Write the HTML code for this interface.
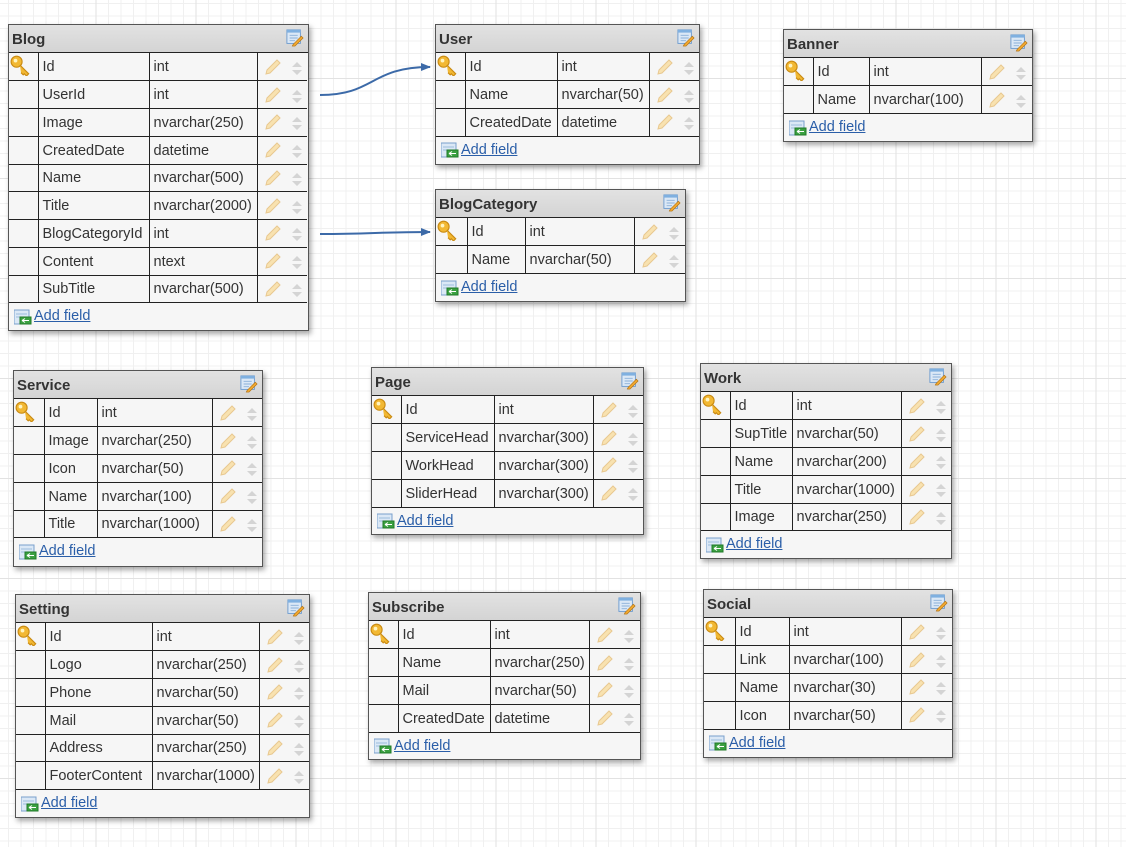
<!DOCTYPE html>
<html><head><meta charset="utf-8"><style>
body{margin:0;width:1126px;height:847px;overflow:hidden;font-family:"Liberation Sans",sans-serif;
background-color:#fff;
background-image:linear-gradient(to right,#e2e2e2 1px,transparent 1px),linear-gradient(to bottom,#e2e2e2 1px,transparent 1px),linear-gradient(to right,#f0f0f0 1px,transparent 1px),linear-gradient(to bottom,#f0f0f0 1px,transparent 1px);
background-size:100px 100px,100px 100px,12.5px 12.5px,12.5px 12.5px;
background-position:95.5px 0,0 78px,8px 0,0 3px;position:relative}
.t{position:absolute;background:#f6f6f6;border:1px solid #555;box-shadow:2px 3px 5px rgba(0,0,0,.35);box-sizing:border-box}
.h{height:28px;background:linear-gradient(#e2e2e2,#d4d4d4);font-weight:bold;font-size:15px;color:#333;line-height:29px;padding-left:3px;position:relative;border-bottom:1px solid #222;box-sizing:border-box}
.ed{position:absolute;right:4px;top:4px;width:18px;height:18px}
table{border-collapse:collapse;table-layout:fixed;font-size:14.5px;color:#333}
td{height:27.75px;border-top:1px solid #222;padding:1px 0 0 4px;white-space:nowrap;overflow:hidden;box-sizing:border-box}
tr:first-child td{border-top:none}
td+td{border-left:1px solid #222}
td.k{padding:0}
td.i{padding:0 0 0 6px}
table{border-bottom:1px solid #222}
.add{height:27px;line-height:27px;font-size:14.5px;padding-left:5px;display:flex;align-items:center}
.add a{color:#2a5ea8;text-decoration:underline;margin-left:2px}
</style></head><body>
<svg width="0" height="0" style="position:absolute"><defs>
<g id="key"><circle cx="6" cy="7" r="5" fill="#f2b833" stroke="#c98a12"/><circle cx="5" cy="6" r="1.7" fill="#fff4c0"/><path d="M9 10 L17 18 L15 20 L13 18 L12 19 L10 17" fill="#f2b833" stroke="#c98a12"/></g>
<g id="pen"><path d="M3 15 L13 5 L16 8 L6 18 L2 19 Z" fill="#f8e2b0" stroke="#e8c890" stroke-width="1"/></g>
<g id="ud"><path d="M5 0 L10 5 L0 5Z M0 8 L10 8 L5 13Z" fill="#d4d4d4"/></g>
<g id="edi"><rect x="1" y="1" width="15" height="15" fill="#dbe8f6" stroke="#6a9ad0"/><rect x="1" y="1" width="15" height="3" fill="#7fb0e0"/><path d="M4 7h9M4 10h9M4 13h6" stroke="#8bb0d8"/><path d="M8 17 L17 8 L19 10 L10 19 L7 19Z" fill="#f0a830" stroke="#b07010" stroke-width=".7"/></g>
<g id="addi"><rect x="0" y="1" width="15" height="14" fill="#dbe8f6" stroke="#7aa0cc"/><path d="M2 5h11M2 8h11" stroke="#9bbbdc"/><rect x="6" y="8" width="11" height="7" fill="#3aa040" stroke="#207a28"/><path d="M8 11.5h7M8 11.5l3-2M8 11.5l3 2" stroke="#fff" stroke-width="1"/></g>
</defs></svg>

<svg style="position:absolute;left:0;top:0" width="1126" height="847">
<defs><marker id="ar" markerWidth="10" markerHeight="8" refX="9" refY="4" orient="auto" markerUnits="userSpaceOnUse"><path d="M0 0 L10 4 L0 8Z" fill="#3c6aa8"/></marker></defs>
<path d="M320 95 C 375 95, 370 67, 430 67" stroke="#3c6aa8" stroke-width="2" fill="none" marker-end="url(#ar)"/>
<path d="M320 234 C 370 234, 380 232, 430 232" stroke="#3c6aa8" stroke-width="2" fill="none" marker-end="url(#ar)"/>
</svg>

<!-- Blog -->
<div class="t" style="left:8px;top:24px;width:301px;height:307px">
<div class="h">Blog<svg class="ed" viewBox="0 0 20 20"><use href="#edi"/></svg></div>
<table style="width:298px"><colgroup><col style="width:29px"><col style="width:111px"><col style="width:108px"><col style="width:50px"></colgroup>
<tr><td class="k"><svg width="24" height="22" viewBox="0 0 20 20"><use href="#key"/></svg></td><td>Id</td><td>int</td><td class="i"><svg width="20" height="20"><use href="#pen"/></svg><svg width="10" height="13" style="margin-left:8px"><use href="#ud"/></svg></td></tr>
<tr><td></td><td>UserId</td><td>int</td><td class="i"><svg width="20" height="20"><use href="#pen"/></svg><svg width="10" height="13" style="margin-left:8px"><use href="#ud"/></svg></td></tr>
<tr><td></td><td>Image</td><td>nvarchar(250)</td><td class="i"><svg width="20" height="20"><use href="#pen"/></svg><svg width="10" height="13" style="margin-left:8px"><use href="#ud"/></svg></td></tr>
<tr><td></td><td>CreatedDate</td><td>datetime</td><td class="i"><svg width="20" height="20"><use href="#pen"/></svg><svg width="10" height="13" style="margin-left:8px"><use href="#ud"/></svg></td></tr>
<tr><td></td><td>Name</td><td>nvarchar(500)</td><td class="i"><svg width="20" height="20"><use href="#pen"/></svg><svg width="10" height="13" style="margin-left:8px"><use href="#ud"/></svg></td></tr>
<tr><td></td><td>Title</td><td>nvarchar(2000)</td><td class="i"><svg width="20" height="20"><use href="#pen"/></svg><svg width="10" height="13" style="margin-left:8px"><use href="#ud"/></svg></td></tr>
<tr><td></td><td>BlogCategoryId</td><td>int</td><td class="i"><svg width="20" height="20"><use href="#pen"/></svg><svg width="10" height="13" style="margin-left:8px"><use href="#ud"/></svg></td></tr>
<tr><td></td><td>Content</td><td>ntext</td><td class="i"><svg width="20" height="20"><use href="#pen"/></svg><svg width="10" height="13" style="margin-left:8px"><use href="#ud"/></svg></td></tr>
<tr><td></td><td>SubTitle</td><td>nvarchar(500)</td><td class="i"><svg width="20" height="20"><use href="#pen"/></svg><svg width="10" height="13" style="margin-left:8px"><use href="#ud"/></svg></td></tr>
</table>
<div class="add"><svg width="18" height="16"><use href="#addi"/></svg><a>Add field</a></div>
</div>

<!-- User -->
<div class="t" style="left:435px;top:24px;width:265px;height:141px">
<div class="h">User<svg class="ed" viewBox="0 0 20 20"><use href="#edi"/></svg></div>
<table style="width:263px"><colgroup><col style="width:29px"><col style="width:92px"><col style="width:92px"><col style="width:50px"></colgroup>
<tr><td class="k"><svg width="24" height="22" viewBox="0 0 20 20"><use href="#key"/></svg></td><td>Id</td><td>int</td><td class="i"><svg width="20" height="20"><use href="#pen"/></svg><svg width="10" height="13" style="margin-left:8px"><use href="#ud"/></svg></td></tr>
<tr><td></td><td>Name</td><td>nvarchar(50)</td><td class="i"><svg width="20" height="20"><use href="#pen"/></svg><svg width="10" height="13" style="margin-left:8px"><use href="#ud"/></svg></td></tr>
<tr><td></td><td>CreatedDate</td><td>datetime</td><td class="i"><svg width="20" height="20"><use href="#pen"/></svg><svg width="10" height="13" style="margin-left:8px"><use href="#ud"/></svg></td></tr>
</table>
<div class="add"><svg width="18" height="16"><use href="#addi"/></svg><a>Add field</a></div>
</div>

<!-- Banner -->
<div class="t" style="left:783px;top:29px;width:250px;height:113px">
<div class="h">Banner<svg class="ed" viewBox="0 0 20 20"><use href="#edi"/></svg></div>
<table style="width:248px"><colgroup><col style="width:29px"><col style="width:56px"><col style="width:112px"><col style="width:51px"></colgroup>
<tr><td class="k"><svg width="24" height="22" viewBox="0 0 20 20"><use href="#key"/></svg></td><td>Id</td><td>int</td><td class="i"><svg width="20" height="20"><use href="#pen"/></svg><svg width="10" height="13" style="margin-left:8px"><use href="#ud"/></svg></td></tr>
<tr><td></td><td>Name</td><td>nvarchar(100)</td><td class="i"><svg width="20" height="20"><use href="#pen"/></svg><svg width="10" height="13" style="margin-left:8px"><use href="#ud"/></svg></td></tr>
</table>
<div class="add"><svg width="18" height="16"><use href="#addi"/></svg><a>Add field</a></div>
</div>

<!-- BlogCategory -->
<div class="t" style="left:435px;top:189px;width:251px;height:113px">
<div class="h">BlogCategory<svg class="ed" viewBox="0 0 20 20"><use href="#edi"/></svg></div>
<table style="width:249px"><colgroup><col style="width:31px"><col style="width:58px"><col style="width:109px"><col style="width:51px"></colgroup>
<tr><td class="k"><svg width="24" height="22" viewBox="0 0 20 20"><use href="#key"/></svg></td><td>Id</td><td>int</td><td class="i"><svg width="20" height="20"><use href="#pen"/></svg><svg width="10" height="13" style="margin-left:8px"><use href="#ud"/></svg></td></tr>
<tr><td></td><td>Name</td><td>nvarchar(50)</td><td class="i"><svg width="20" height="20"><use href="#pen"/></svg><svg width="10" height="13" style="margin-left:8px"><use href="#ud"/></svg></td></tr>
</table>
<div class="add"><svg width="18" height="16"><use href="#addi"/></svg><a>Add field</a></div>
</div>

<!-- Service -->
<div class="t" style="left:13px;top:370px;width:250px;height:197px">
<div class="h">Service<svg class="ed" viewBox="0 0 20 20"><use href="#edi"/></svg></div>
<table style="width:248px"><colgroup><col style="width:30px"><col style="width:53px"><col style="width:115px"><col style="width:50px"></colgroup>
<tr><td class="k"><svg width="24" height="22" viewBox="0 0 20 20"><use href="#key"/></svg></td><td>Id</td><td>int</td><td class="i"><svg width="20" height="20"><use href="#pen"/></svg><svg width="10" height="13" style="margin-left:8px"><use href="#ud"/></svg></td></tr>
<tr><td></td><td>Image</td><td>nvarchar(250)</td><td class="i"><svg width="20" height="20"><use href="#pen"/></svg><svg width="10" height="13" style="margin-left:8px"><use href="#ud"/></svg></td></tr>
<tr><td></td><td>Icon</td><td>nvarchar(50)</td><td class="i"><svg width="20" height="20"><use href="#pen"/></svg><svg width="10" height="13" style="margin-left:8px"><use href="#ud"/></svg></td></tr>
<tr><td></td><td>Name</td><td>nvarchar(100)</td><td class="i"><svg width="20" height="20"><use href="#pen"/></svg><svg width="10" height="13" style="margin-left:8px"><use href="#ud"/></svg></td></tr>
<tr><td></td><td>Title</td><td>nvarchar(1000)</td><td class="i"><svg width="20" height="20"><use href="#pen"/></svg><svg width="10" height="13" style="margin-left:8px"><use href="#ud"/></svg></td></tr>
</table>
<div class="add"><svg width="18" height="16"><use href="#addi"/></svg><a>Add field</a></div>
</div>

<!-- Page -->
<div class="t" style="left:371px;top:367px;width:273px;height:168px">
<div class="h">Page<svg class="ed" viewBox="0 0 20 20"><use href="#edi"/></svg></div>
<table style="width:271px"><colgroup><col style="width:29px"><col style="width:93px"><col style="width:99px"><col style="width:50px"></colgroup>
<tr><td class="k"><svg width="24" height="22" viewBox="0 0 20 20"><use href="#key"/></svg></td><td>Id</td><td>int</td><td class="i"><svg width="20" height="20"><use href="#pen"/></svg><svg width="10" height="13" style="margin-left:8px"><use href="#ud"/></svg></td></tr>
<tr><td></td><td>ServiceHead</td><td>nvarchar(300)</td><td class="i"><svg width="20" height="20"><use href="#pen"/></svg><svg width="10" height="13" style="margin-left:8px"><use href="#ud"/></svg></td></tr>
<tr><td></td><td>WorkHead</td><td>nvarchar(300)</td><td class="i"><svg width="20" height="20"><use href="#pen"/></svg><svg width="10" height="13" style="margin-left:8px"><use href="#ud"/></svg></td></tr>
<tr><td></td><td>SliderHead</td><td>nvarchar(300)</td><td class="i"><svg width="20" height="20"><use href="#pen"/></svg><svg width="10" height="13" style="margin-left:8px"><use href="#ud"/></svg></td></tr>
</table>
<div class="add"><svg width="18" height="16"><use href="#addi"/></svg><a>Add field</a></div>
</div>

<!-- Work -->
<div class="t" style="left:700px;top:363px;width:252px;height:196px">
<div class="h">Work<svg class="ed" viewBox="0 0 20 20"><use href="#edi"/></svg></div>
<table style="width:250px"><colgroup><col style="width:29px"><col style="width:62px"><col style="width:109px"><col style="width:50px"></colgroup>
<tr><td class="k"><svg width="24" height="22" viewBox="0 0 20 20"><use href="#key"/></svg></td><td>Id</td><td>int</td><td class="i"><svg width="20" height="20"><use href="#pen"/></svg><svg width="10" height="13" style="margin-left:8px"><use href="#ud"/></svg></td></tr>
<tr><td></td><td>SupTitle</td><td>nvarchar(50)</td><td class="i"><svg width="20" height="20"><use href="#pen"/></svg><svg width="10" height="13" style="margin-left:8px"><use href="#ud"/></svg></td></tr>
<tr><td></td><td>Name</td><td>nvarchar(200)</td><td class="i"><svg width="20" height="20"><use href="#pen"/></svg><svg width="10" height="13" style="margin-left:8px"><use href="#ud"/></svg></td></tr>
<tr><td></td><td>Title</td><td>nvarchar(1000)</td><td class="i"><svg width="20" height="20"><use href="#pen"/></svg><svg width="10" height="13" style="margin-left:8px"><use href="#ud"/></svg></td></tr>
<tr><td></td><td>Image</td><td>nvarchar(250)</td><td class="i"><svg width="20" height="20"><use href="#pen"/></svg><svg width="10" height="13" style="margin-left:8px"><use href="#ud"/></svg></td></tr>
</table>
<div class="add"><svg width="18" height="16"><use href="#addi"/></svg><a>Add field</a></div>
</div>

<!-- Setting -->
<div class="t" style="left:15px;top:594px;width:295px;height:224px">
<div class="h">Setting<svg class="ed" viewBox="0 0 20 20"><use href="#edi"/></svg></div>
<table style="width:293px"><colgroup><col style="width:29px"><col style="width:107px"><col style="width:107px"><col style="width:50px"></colgroup>
<tr><td class="k"><svg width="24" height="22" viewBox="0 0 20 20"><use href="#key"/></svg></td><td>Id</td><td>int</td><td class="i"><svg width="20" height="20"><use href="#pen"/></svg><svg width="10" height="13" style="margin-left:8px"><use href="#ud"/></svg></td></tr>
<tr><td></td><td>Logo</td><td>nvarchar(250)</td><td class="i"><svg width="20" height="20"><use href="#pen"/></svg><svg width="10" height="13" style="margin-left:8px"><use href="#ud"/></svg></td></tr>
<tr><td></td><td>Phone</td><td>nvarchar(50)</td><td class="i"><svg width="20" height="20"><use href="#pen"/></svg><svg width="10" height="13" style="margin-left:8px"><use href="#ud"/></svg></td></tr>
<tr><td></td><td>Mail</td><td>nvarchar(50)</td><td class="i"><svg width="20" height="20"><use href="#pen"/></svg><svg width="10" height="13" style="margin-left:8px"><use href="#ud"/></svg></td></tr>
<tr><td></td><td>Address</td><td>nvarchar(250)</td><td class="i"><svg width="20" height="20"><use href="#pen"/></svg><svg width="10" height="13" style="margin-left:8px"><use href="#ud"/></svg></td></tr>
<tr><td></td><td>FooterContent</td><td>nvarchar(1000)</td><td class="i"><svg width="20" height="20"><use href="#pen"/></svg><svg width="10" height="13" style="margin-left:8px"><use href="#ud"/></svg></td></tr>
</table>
<div class="add"><svg width="18" height="16"><use href="#addi"/></svg><a>Add field</a></div>
</div>

<!-- Subscribe -->
<div class="t" style="left:368px;top:592px;width:273px;height:168px">
<div class="h">Subscribe<svg class="ed" viewBox="0 0 20 20"><use href="#edi"/></svg></div>
<table style="width:271px"><colgroup><col style="width:29px"><col style="width:92px"><col style="width:99px"><col style="width:51px"></colgroup>
<tr><td class="k"><svg width="24" height="22" viewBox="0 0 20 20"><use href="#key"/></svg></td><td>Id</td><td>int</td><td class="i"><svg width="20" height="20"><use href="#pen"/></svg><svg width="10" height="13" style="margin-left:8px"><use href="#ud"/></svg></td></tr>
<tr><td></td><td>Name</td><td>nvarchar(250)</td><td class="i"><svg width="20" height="20"><use href="#pen"/></svg><svg width="10" height="13" style="margin-left:8px"><use href="#ud"/></svg></td></tr>
<tr><td></td><td>Mail</td><td>nvarchar(50)</td><td class="i"><svg width="20" height="20"><use href="#pen"/></svg><svg width="10" height="13" style="margin-left:8px"><use href="#ud"/></svg></td></tr>
<tr><td></td><td>CreatedDate</td><td>datetime</td><td class="i"><svg width="20" height="20"><use href="#pen"/></svg><svg width="10" height="13" style="margin-left:8px"><use href="#ud"/></svg></td></tr>
</table>
<div class="add"><svg width="18" height="16"><use href="#addi"/></svg><a>Add field</a></div>
</div>

<!-- Social -->
<div class="t" style="left:703px;top:589px;width:250px;height:169px">
<div class="h">Social<svg class="ed" viewBox="0 0 20 20"><use href="#edi"/></svg></div>
<table style="width:248px"><colgroup><col style="width:31px"><col style="width:54px"><col style="width:112px"><col style="width:51px"></colgroup>
<tr><td class="k"><svg width="24" height="22" viewBox="0 0 20 20"><use href="#key"/></svg></td><td>Id</td><td>int</td><td class="i"><svg width="20" height="20"><use href="#pen"/></svg><svg width="10" height="13" style="margin-left:8px"><use href="#ud"/></svg></td></tr>
<tr><td></td><td>Link</td><td>nvarchar(100)</td><td class="i"><svg width="20" height="20"><use href="#pen"/></svg><svg width="10" height="13" style="margin-left:8px"><use href="#ud"/></svg></td></tr>
<tr><td></td><td>Name</td><td>nvarchar(30)</td><td class="i"><svg width="20" height="20"><use href="#pen"/></svg><svg width="10" height="13" style="margin-left:8px"><use href="#ud"/></svg></td></tr>
<tr><td></td><td>Icon</td><td>nvarchar(50)</td><td class="i"><svg width="20" height="20"><use href="#pen"/></svg><svg width="10" height="13" style="margin-left:8px"><use href="#ud"/></svg></td></tr>
</table>
<div class="add"><svg width="18" height="16"><use href="#addi"/></svg><a>Add field</a></div>
</div>
</body></html>
